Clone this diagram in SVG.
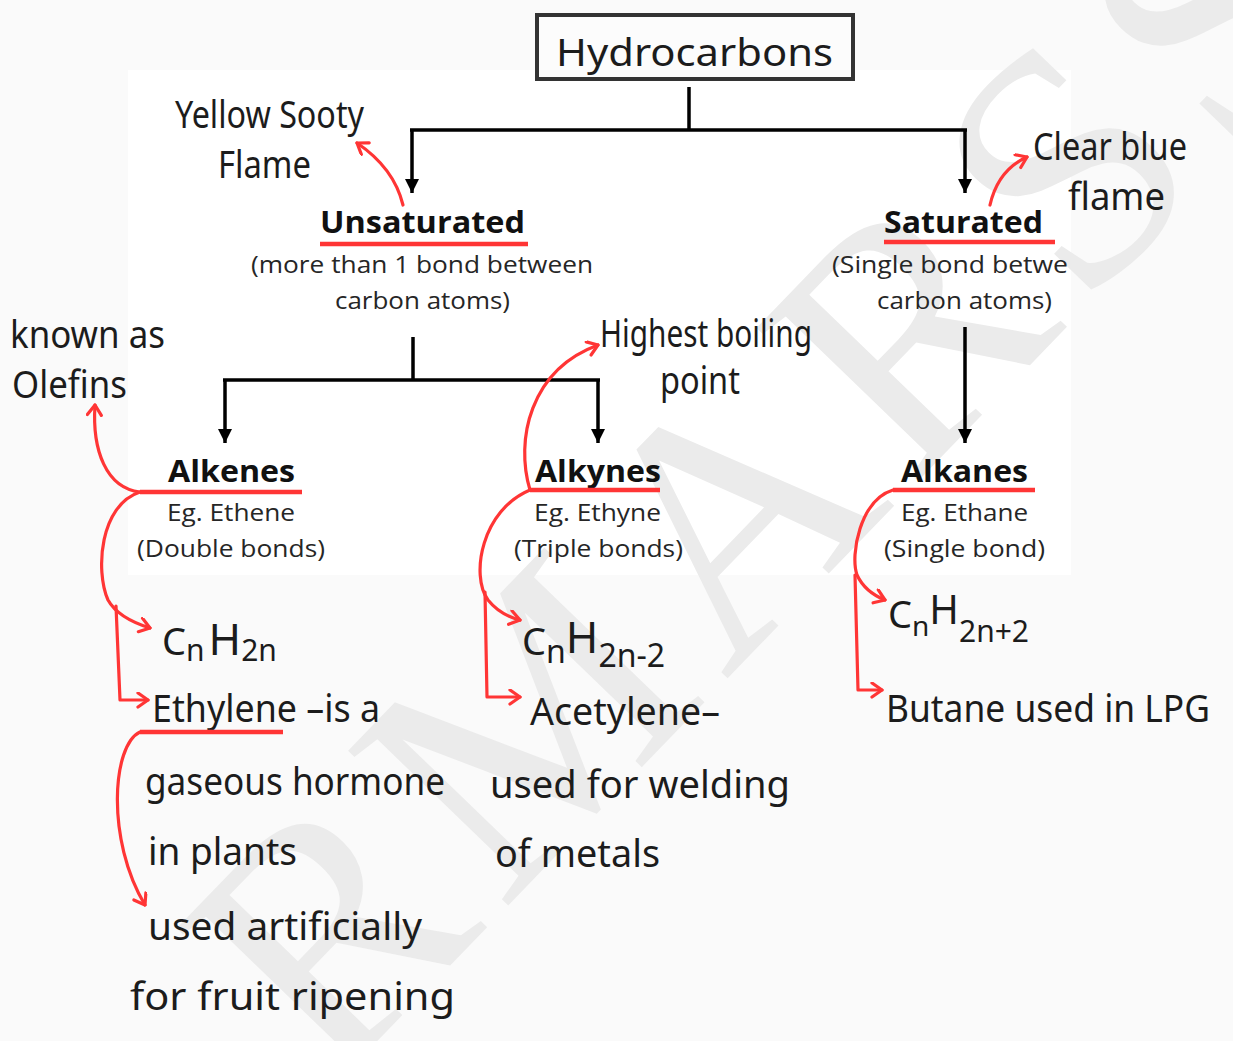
<svg xmlns="http://www.w3.org/2000/svg" width="1233" height="1041" viewBox="0 0 1233 1041">
  <defs>
    <style>
      .typed { font-family: "Open Sans", "Liberation Sans", sans-serif; fill: #262626; }
      .title { font-weight: bold; font-size: 31px; fill: #111; }
      .sub { font-size: 23px; }
      .hand { font-family: "Noto Sans", "DejaVu Sans", sans-serif; fill: #1c1c1c; font-size: 38px; }
      .tree { stroke: #000; stroke-width: 3.5; fill: none; }
      .red { stroke: #ff3535; stroke-width: 3.2; fill: none; stroke-linecap: round; stroke-linejoin: round; }
      .ul { stroke: #ff3535; stroke-width: 4.5; }
      .wm { font-family: "Liberation Serif", serif; font-size: 340px; fill: #ebebeb; }
    </style>
    <marker id="blk" markerUnits="userSpaceOnUse" markerWidth="16" markerHeight="16" refX="14" refY="7" orient="auto">
      <path d="M0,0 L14,7 L0,14 z" fill="#000"/>
    </marker>
    <marker id="redhead" markerUnits="userSpaceOnUse" markerWidth="20" markerHeight="20" refX="12" refY="8" orient="auto">
      <path d="M2,1 L12,8 L2,15" fill="none" stroke="#ff3535" stroke-width="3.2" stroke-linecap="round" stroke-linejoin="round"/>
    </marker>
  </defs>

  <rect x="0" y="0" width="1233" height="1041" fill="#fafafa"/>
  <rect x="128" y="70" width="943" height="505" fill="#ffffff"/>

  <text class="wm" x="330" y="1090" transform="rotate(-46 330 1090)" letter-spacing="20">RMARSS</text>

  <g id="connectors">
    <path class="tree" d="M689,87 V130 M410,130 H967"/>
    <path class="tree" d="M412,130 V193" marker-end="url(#blk)"/>
    <path class="tree" d="M965,130 V193" marker-end="url(#blk)"/>
    <path class="tree" d="M413,337 V380 M223,380 H600"/>
    <path class="tree" d="M225,380 V443" marker-end="url(#blk)"/>
    <path class="tree" d="M598,380 V443" marker-end="url(#blk)"/>
    <path class="tree" d="M965,327 V443" marker-end="url(#blk)"/>

    <path class="red" d="M403,205 Q394,168 357,143" marker-end="url(#redhead)"/>
    <path class="red" d="M990,205 Q998,170 1027,157" marker-end="url(#redhead)"/>
    <path class="red" d="M140,492 C106,488 92,450 95,405" marker-end="url(#redhead)"/>
    <path class="red" d="M140,492 C100,505 95,570 108,600 Q118,618 150,628" marker-end="url(#redhead)"/>
    <path class="red" d="M116,606 L120,700 L148,700" marker-end="url(#redhead)"/>
    <path class="red" d="M140,732 C112,745 106,840 145,905" marker-end="url(#redhead)"/>
    <path class="red" d="M530,490 C515,440 530,370 598,345" marker-end="url(#redhead)"/>
    <path class="red" d="M530,490 C482,510 470,575 488,600 Q500,615 520,620" marker-end="url(#redhead)"/>
    <path class="red" d="M485,592 L487,697 L520,697" marker-end="url(#redhead)"/>
    <path class="red" d="M893,490 C860,500 850,555 857,575 Q865,592 885,600" marker-end="url(#redhead)"/>
    <path class="red" d="M855,575 L858,690 L882,690" marker-end="url(#redhead)"/>
  </g>

  <g id="hydrocarbons">
    <rect x="537" y="15" width="316" height="64" fill="#fcfcfc" stroke="#333" stroke-width="4"/>
    <text class="hand" x="556" y="66" font-size="40" textLength="277" lengthAdjust="spacingAndGlyphs">Hydrocarbons</text>
  </g>

  <g id="unsaturated">
    <text class="typed title" x="320" y="233" textLength="205" lengthAdjust="spacingAndGlyphs">Unsaturated</text>
    <line class="ul" x1="320" y1="244" x2="528" y2="244"/>
    <text class="typed sub" x="251" y="273" textLength="342" lengthAdjust="spacingAndGlyphs">(more than 1 bond between</text>
    <text class="typed sub" x="335" y="309" textLength="175" lengthAdjust="spacingAndGlyphs">carbon atoms)</text>
  </g>

  <g id="saturated">
    <text class="typed title" x="884" y="233" textLength="159" lengthAdjust="spacingAndGlyphs">Saturated</text>
    <line class="ul" x1="884" y1="242" x2="1055" y2="242"/>
    <text class="typed sub" x="832" y="273" textLength="236" lengthAdjust="spacingAndGlyphs">(Single bond betwe</text>
    <text class="typed sub" x="877" y="309" textLength="175" lengthAdjust="spacingAndGlyphs">carbon atoms)</text>
  </g>

  <g id="alkenes">
    <text class="typed title" x="168" y="482" textLength="127" lengthAdjust="spacingAndGlyphs">Alkenes</text>
    <line class="ul" x1="140" y1="492" x2="302" y2="492"/>
    <text class="typed sub" x="167" y="521" textLength="128" lengthAdjust="spacingAndGlyphs">Eg. Ethene</text>
    <text class="typed sub" x="137" y="557" textLength="188" lengthAdjust="spacingAndGlyphs">(Double bonds)</text>
  </g>

  <g id="alkynes">
    <text class="typed title" x="535" y="482" textLength="126" lengthAdjust="spacingAndGlyphs">Alkynes</text>
    <line class="ul" x1="530" y1="490" x2="660" y2="490"/>
    <text class="typed sub" x="534" y="521" textLength="127" lengthAdjust="spacingAndGlyphs">Eg. Ethyne</text>
    <text class="typed sub" x="514" y="557" textLength="169" lengthAdjust="spacingAndGlyphs">(Triple bonds)</text>
  </g>

  <g id="alkanes">
    <text class="typed title" x="901" y="482" textLength="127" lengthAdjust="spacingAndGlyphs">Alkanes</text>
    <line class="ul" x1="893" y1="490" x2="1035" y2="490"/>
    <text class="typed sub" x="901" y="521" textLength="127" lengthAdjust="spacingAndGlyphs">Eg. Ethane</text>
    <text class="typed sub" x="884" y="557" textLength="161" lengthAdjust="spacingAndGlyphs">(Single bond)</text>
  </g>

  <g id="note-yellow-sooty">
    <text class="hand" x="175" y="128" font-size="29" textLength="189" lengthAdjust="spacingAndGlyphs">Yellow Sooty</text>
    <text class="hand" x="218" y="178" font-size="31" textLength="93" lengthAdjust="spacingAndGlyphs">Flame</text>
  </g>

  <g id="note-clear-blue">
    <text class="hand" x="1033" y="160" font-size="29" textLength="154" lengthAdjust="spacingAndGlyphs">Clear blue</text>
    <text class="hand" x="1068" y="210" font-size="32" textLength="97" lengthAdjust="spacingAndGlyphs">flame</text>
  </g>

  <g id="note-olefins">
    <text class="hand" x="10" y="348" font-size="32" textLength="155" lengthAdjust="spacingAndGlyphs">known as</text>
    <text class="hand" x="12" y="398" font-size="36" textLength="115" lengthAdjust="spacingAndGlyphs">Olefins</text>
  </g>

  <g id="note-highest">
    <text class="hand" x="600" y="347" font-size="26" textLength="212" lengthAdjust="spacingAndGlyphs">Highest boiling</text>
    <text class="hand" x="660" y="394" font-size="27" textLength="80" lengthAdjust="spacingAndGlyphs">point</text>
  </g>

  <g id="formula-alkene">
    <text class="hand" x="162" y="655" font-size="44">C<tspan font-size="30" dy="6">n</tspan><tspan font-size="44" dy="-6" dx="4">H</tspan><tspan font-size="30" dy="6">2n</tspan></text>
  </g>

  <g id="note-ethylene">
    <text class="hand" x="152" y="722" font-size="40" textLength="228" lengthAdjust="spacingAndGlyphs">Ethylene –is a</text>
    <line class="ul" x1="140" y1="732" x2="283" y2="732"/>
    <text class="hand" x="145" y="795" font-size="40" textLength="300" lengthAdjust="spacingAndGlyphs">gaseous hormone</text>
    <text class="hand" x="148" y="865" font-size="40" textLength="149" lengthAdjust="spacingAndGlyphs">in plants</text>
    <text class="hand" x="148" y="940" font-size="40" textLength="274" lengthAdjust="spacingAndGlyphs">used artificially</text>
    <text class="hand" x="130" y="1010" font-size="40" textLength="325" lengthAdjust="spacingAndGlyphs">for fruit ripening</text>
  </g>

  <g id="formula-alkyne">
    <text class="hand" x="522" y="655" font-size="44">C<tspan font-size="32" dy="8">n</tspan><tspan font-size="44" dy="-10">H</tspan><tspan font-size="32" dy="14">2n-2</tspan></text>
  </g>

  <g id="note-acetylene">
    <text class="hand" x="530" y="725" font-size="40" textLength="190" lengthAdjust="spacingAndGlyphs">Acetylene–</text>
    <text class="hand" x="490" y="798" font-size="40" textLength="300" lengthAdjust="spacingAndGlyphs">used for welding</text>
    <text class="hand" x="495" y="867" font-size="40" textLength="165" lengthAdjust="spacingAndGlyphs">of metals</text>
  </g>

  <g id="formula-alkane">
    <text class="hand" x="888" y="628" font-size="40">C<tspan font-size="28" dy="8">n</tspan><tspan font-size="40" dy="-12">H</tspan><tspan font-size="30" dy="18">2n+2</tspan></text>
  </g>

  <g id="note-butane">
    <text class="hand" x="886" y="722" font-size="33" textLength="324" lengthAdjust="spacingAndGlyphs">Butane used in LPG</text>
  </g>
</svg>
